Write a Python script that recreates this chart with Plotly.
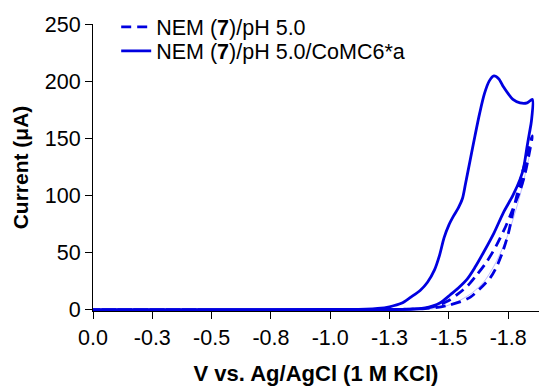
import plotly.graph_objects as go

# ---- data ----
x_tickvals = [0.0, -0.25, -0.5, -0.75, -1.0, -1.25, -1.5, -1.75]
x_ticktext = ["0.0", "-0.3", "-0.5", "-0.8", "-1.0", "-1.3", "-1.5", "-1.8"]
y_tickvals = [0, 50, 100, 150, 200, 250]

# NEM (7)/pH 5.0  (dashed), forward then return scan
nem_v = [0.0, -0.5, -1.0, -1.3, -1.4, -1.45, -1.5, -1.55, -1.591, -1.63, -1.675, -1.70,
         -1.726, -1.751, -1.772, -1.79, -1.81, -1.83, -1.845, -1.852,
         -1.84, -1.82, -1.80, -1.77, -1.74, -1.70, -1.66, -1.62, -1.58, -1.54, -1.50,
         -1.45, -1.40, -1.3, -1.0, -0.5, 0.0]
nem_i = [0.0, 0.0, 0.0, 0.3, 1.0, 2.0, 4.0, 7.0, 11.0, 18.0, 28.0, 37.0,
         50.0, 67.0, 87.0, 103.0, 120.0, 135.0, 148.0, 152.0,
         138.0, 118.0, 104.0, 88.0, 73.0, 56.0, 42.0, 31.0, 21.0, 14.0, 8.0,
         3.5, 1.2, 0.2, 0.0, 0.0, 0.0]

# faint connecting line seen between the dashed branches
faint_v = [-1.40, -1.45, -1.5, -1.55, -1.6, -1.65, -1.7, -1.75, -1.8, -1.84]
faint_i = [0.3, 1.0, 4.0, 8.5, 15.0, 25.0, 42.0, 66.0, 100.0, 135.0]

# NEM (7)/pH 5.0/CoMC6*a (solid), forward then return scan
co_v = [0.0, -0.5, -1.0, -1.15, -1.2, -1.25, -1.3, -1.34, -1.38, -1.41, -1.44, -1.46,
        -1.48, -1.5, -1.52, -1.54, -1.557, -1.57, -1.59, -1.61, -1.63, -1.65, -1.67,
        -1.69, -1.71, -1.73, -1.75, -1.77, -1.80, -1.83, -1.852,
        -1.848, -1.84, -1.83, -1.815, -1.80, -1.77, -1.73, -1.69, -1.646, -1.61,
        -1.578, -1.54, -1.506, -1.464, -1.43, -1.40, -1.35, -1.25, -1.0, -0.5, 0.0]
co_i = [0.0, 0.0, 0.1, 0.4, 1.0, 2.5, 5.5, 11.0, 17.0, 24.0, 35.0, 47.0,
        63.0, 74.0, 82.0, 89.0, 97.0, 110.0, 131.0, 152.0, 172.0, 189.0, 200.0,
        204.5, 202.0, 195.0, 189.0, 184.0, 181.0, 181.0, 184.0,
        165.0, 155.0, 143.0, 124.0, 114.0, 100.0, 85.0, 67.0, 50.0, 37.0,
        27.0, 19.0, 13.0, 6.0, 3.0, 1.5, 0.5, 0.1, 0.0, 0.0, 0.0]

BLUE = "#0000E0"
FONT = "Arial, 'Liberation Sans', sans-serif"

fig = go.Figure()
fig.add_trace(go.Scatter(x=faint_v, y=faint_i, mode="lines", showlegend=False,
                         line=dict(color="rgba(110,110,255,0.45)", width=1,
                                   shape="spline", smoothing=0.8),
                         hoverinfo="skip"))
fig.add_trace(go.Scatter(x=nem_v, y=nem_i, mode="lines",
                         name="NEM (<b>7</b>)/pH 5.0", legend="legend",
                         line=dict(color=BLUE, width=2.8, dash="10px,6px",
                                   shape="spline", smoothing=0.8)))
fig.add_trace(go.Scatter(x=co_v, y=co_i, mode="lines",
                         name="NEM (<b>7</b>)/pH 5.0/CoMC6*a", legend="legend2",
                         line=dict(color=BLUE, width=2.8,
                                   shape="spline", smoothing=0.8)))

legend_style = dict(xanchor="left", yanchor="top", bgcolor="rgba(0,0,0,0)",
                    font=dict(size=21.5))

fig.update_layout(
    width=539, height=386,
    margin=dict(l=93, r=0, t=24, b=75),
    paper_bgcolor="white", plot_bgcolor="white",
    font=dict(family=FONT, size=21, color="black"),
    legend=dict(x=0.052, y=1.061, **legend_style),
    legend2=dict(x=0.052, y=0.978, **legend_style),
    xaxis=dict(range=[0, -1.88], tickvals=x_tickvals, ticktext=x_ticktext,
               showgrid=False, zeroline=False, showline=True, linecolor="black",
               linewidth=1, ticks="outside", ticklen=7, tickcolor="black",
               tickfont=dict(size=21.5),
               title=dict(text="<b>V vs. Ag/AgCl (1 M KCl)</b>", font=dict(size=22),
                          standoff=20)),
    yaxis=dict(range=[-1.2, 250], tickvals=y_tickvals,
               showgrid=False, zeroline=False, showline=True, linecolor="black",
               linewidth=1, ticks="outside", ticklen=7, tickcolor="black",
               tickfont=dict(size=21.5),
               title=dict(text="<b>Current (μA)</b>", font=dict(size=21),
                          standoff=10)),
)

fig.write_html("out.html")
